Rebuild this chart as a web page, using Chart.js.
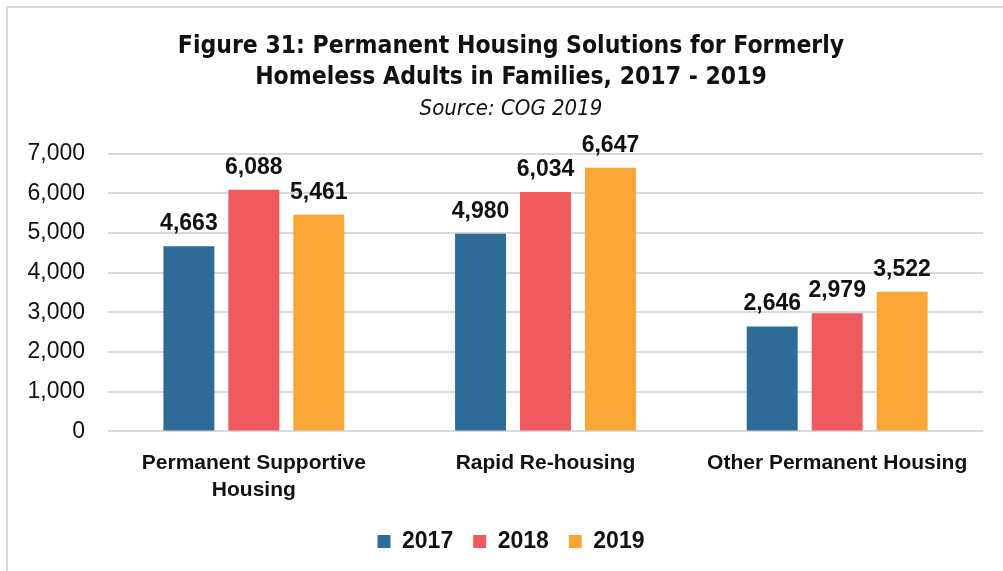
<!DOCTYPE html>
<html>
<head>
<meta charset="utf-8">
<script src="https://cdn.jsdelivr.net/npm/chart.js@4.4.0/dist/chart.umd.min.js"></script>
<style>
  html, body { margin: 0; padding: 0; background: #fff; }
  #wrap { position: relative; width: 1003px; height: 571px; overflow: hidden; }
  #frame { position: absolute; left: 6px; top: 6px; width: 1100px; height: 700px;
           border-left: 2px solid #d9d9d9; border-top: 2px solid #d9d9d9; }
  canvas { position: absolute; left: 0; top: 0; }
</style>
</head>
<body>
<div id="wrap">
  <div id="frame"></div>
  <canvas id="chart" width="1003" height="571"></canvas>
</div>
<script>
// valores
const categorias = [['Permanent Supportive', 'Housing'], 'Rapid Re-housing', 'Other Permanent Housing'];
const anios = ['2017', '2018', '2019'];
const valores2017 = [4663, 4980, 2646];
const valores2018 = [6088, 6034, 2979];
const valores2019 = [5461, 6647, 3522];
const colores = ['#2e6b96', '#f05a5e', '#f9a636'];

const tituloFont = "'Liberation Sans Narrow', 'DejaVu Sans Condensed', 'Liberation Sans', sans-serif";
const textoFont = "'Liberation Sans', Arial, sans-serif";

// etiquetas de valor sobre cada barra
const etiquetas = {
  id: 'etiquetas',
  afterLayout(chart) {
    // que no se recorten las etiquetas de los ejes
    chart.scales.y.left = 0;
    chart.scales.x.bottom = chart.height;
  },
  afterDatasetsDraw(chart) {
    const ctx = chart.ctx;
    ctx.save();
    ctx.font = 'bold 23px ' + textoFont;
    ctx.fillStyle = '#111';
    ctx.textAlign = 'center';
    ctx.textBaseline = 'alphabetic';
    chart.data.datasets.forEach((ds, i) => {
      const meta = chart.getDatasetMeta(i);
      meta.data.forEach((bar, j) => {
        ctx.fillText(ds.data[j].toLocaleString('en-US'), bar.x, bar.y - 16);
      });
    });
    ctx.restore();
  }
};

const series = [valores2017, valores2018, valores2019];

new Chart(document.getElementById('chart'), {
  type: 'bar',
  data: {
    labels: categorias,
    datasets: anios.map((a, i) => ({
      label: a,
      data: series[i],
      backgroundColor: colores[i],
      borderWidth: 0,
      barPercentage: 0.785,
      categoryPercentage: 0.668
    }))
  },
  options: {
    responsive: false,
    animation: false,
    layout: { padding: { top: 14, left: 39, right: 20, bottom: 8 } },
    plugins: {
      title: {
        display: true,
        text: ['Figure 31: Permanent Housing Solutions for Formerly', 'Homeless Adults in Families, 2017 - 2019'],
        color: '#111',
        font: { family: tituloFont, size: 24.5, weight: 'bold', lineHeight: 1.27 },
        padding: { top: 17, bottom: 0 }
      },
      subtitle: {
        display: true,
        text: 'Source: COG 2019',
        color: '#111',
        font: { family: tituloFont, size: 22, style: 'italic', lineHeight: 1.2 },
        padding: { top: 3, bottom: 31 }
      },
      legend: {
        position: 'bottom',
        labels: {
          color: '#111',
          font: { family: textoFont, size: 23, weight: 'bold' },
          boxWidth: 13,
          boxHeight: 13,
          padding: 20
        }
      },
      tooltip: { enabled: false }
    },
    scales: {
      x: {
        afterFit: s => { s.height -= 12; },
        grid: { display: false, drawTicks: false },
        border: { display: false },
        ticks: { color: '#111', font: { family: textoFont, size: 21, weight: 'bold', lineHeight: 1.3 }, padding: 18 }
      },
      y: {
        min: 0,
        max: 7000,
        afterFit: s => { s.width = 69; },
        ticks: {
          stepSize: 1000,
          color: '#111',
          padding: 23,
          font: { family: textoFont, size: 23 },
          callback: v => v.toLocaleString('en-US')
        },
        grid: { color: '#d9d9d9', lineWidth: 2, drawTicks: false },
        border: { display: false }
      }
    }
  },
  plugins: [etiquetas]
});
</script>
</body>
</html>
